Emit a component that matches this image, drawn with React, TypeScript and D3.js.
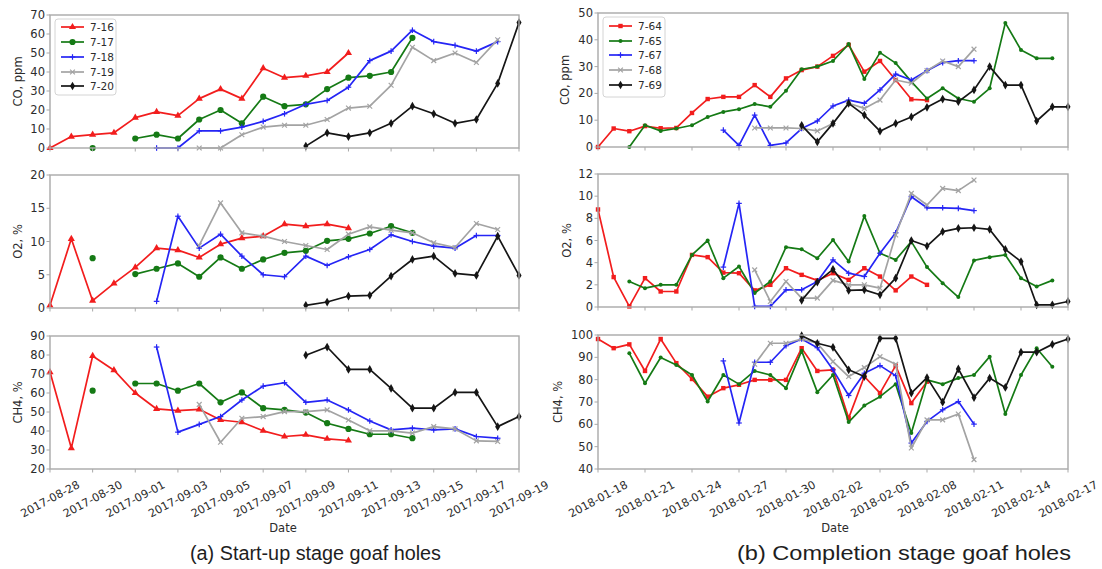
import React from "react";
import * as d3 from "d3";

const _ = null;

// ---- (a) start-up stage goaf holes ----
const startupDates = [
  "2017-08-28", "2017-08-29", "2017-08-30", "2017-08-31", "2017-09-01", "2017-09-02",
  "2017-09-03", "2017-09-04", "2017-09-05", "2017-09-06", "2017-09-07", "2017-09-08",
  "2017-09-09", "2017-09-10", "2017-09-11", "2017-09-12", "2017-09-13", "2017-09-14",
  "2017-09-15", "2017-09-16", "2017-09-17", "2017-09-18", "2017-09-19",
];
const startupTicks = [
  "2017-08-28", "2017-08-30", "2017-09-01", "2017-09-03", "2017-09-05", "2017-09-07",
  "2017-09-09", "2017-09-11", "2017-09-13", "2017-09-15", "2017-09-17", "2017-09-19",
];
const startupHoles = ["7-16", "7-17", "7-18", "7-19", "7-20"];

const coA716 = [0, 6, 7, 8, 16, 19, 17, 26, 31, 26, 42, 37, 38, 40, 50, _, _, _, _, _, _, _, _];
const coA717 = [_, _, 0, _, 5, 7, 5, 15, 20, 13, 27, 22, 23, 31, 37, 38, 40, 58, _, _, _, _, _];
const coA718 = [_, _, _, _, _, 0, 0, 9, 9, 11, 14, 18, 23, 25, 32, 46, 51, 62, 56, 54, 51, 56, _];
const coA719 = [_, _, _, _, _, _, _, 0, 0, 7, 11, 12, 12, 15, 21, 22, 33, 53, 46, 50, 45, 57, _];
const coA720 = [_, _, _, _, _, _, _, _, _, _, _, _, 1, 8, 6, 8, 13, 22, 18, 13, 15, 34, 66];

const o2A716 = [0.4, 10.4, 1.1, 3.7, 6.1, 9.0, 8.7, 7.6, 9.6, 10.5, 10.8, 12.6, 12.3, 12.6, 12.0, _, _, _, _, _, _, _, _];
const o2A717 = [_, _, 7.5, _, 5.1, 5.9, 6.7, 4.7, 7.6, 5.9, 7.3, 8.3, 8.6, 10.1, 10.4, 11.2, 12.3, 11.3, _, _, _, _, _];
const o2A718 = [_, _, _, _, _, 1.0, 13.8, 9.0, 11.1, 7.8, 5.0, 4.7, 7.8, 6.4, 7.7, 8.8, 11.0, 10.0, 9.3, 9.0, 10.9, 10.9, _];
const o2A719 = [_, _, _, _, _, _, _, 9.4, 15.8, 11.3, 10.8, 10.0, 9.4, 8.8, 11.1, 12.2, 11.7, 11.3, 9.8, 9.1, 12.7, 11.8, _];
const o2A720 = [_, _, _, _, _, _, _, _, _, _, _, _, 0.4, 0.9, 1.8, 1.9, 4.8, 7.3, 7.8, 5.2, 4.9, 10.8, 4.9];

const ch4A716 = [71, 31, 79.5, 72, 60, 51.6, 50.7, 51.4, 45.8, 44.6, 40.1, 37.1, 38, 35.9, 35, _, _, _, _, _, _, _, _];
const ch4A717 = [_, _, 61.2, _, 65, 65, 61.2, 65, 55.1, 60.3, 52, 51.1, 49.7, 44.1, 41.1, 38.3, 38.3, 36.2, _, _, _, _, _];
const ch4A718 = [_, _, _, _, _, 84.2, 39.4, 43.5, 47.6, 56.3, 63.6, 65.4, 55.1, 56.3, 51.1, 45.3, 40.6, 41.5, 40.6, 41.1, 37.1, 36.2, _];
const ch4A719 = [_, _, _, _, _, _, _, 54, 34.1, 46.7, 47.6, 50.2, 50.2, 51.1, 45.8, 40.1, 40.1, 38.9, 42.3, 41.1, 34.8, 34.5, _];
const ch4A720 = [_, _, _, _, _, _, _, _, _, _, _, _, 79.9, 84.2, 72.4, 72.4, 62.4, 52, 52, 60.3, 60.3, 42.3, 47.6];

// ---- (b) completion stage goaf holes ----
const completionDates = [
  "2018-01-18", "2018-01-19", "2018-01-20", "2018-01-21", "2018-01-22", "2018-01-23",
  "2018-01-24", "2018-01-25", "2018-01-26", "2018-01-27", "2018-01-28", "2018-01-29",
  "2018-01-30", "2018-01-31", "2018-02-01", "2018-02-02", "2018-02-03", "2018-02-04",
  "2018-02-05", "2018-02-06", "2018-02-07", "2018-02-08", "2018-02-09", "2018-02-10",
  "2018-02-11", "2018-02-12", "2018-02-13", "2018-02-14", "2018-02-15", "2018-02-16",
  "2018-02-17",
];
const completionTicks = [
  "2018-01-18", "2018-01-21", "2018-01-24", "2018-01-27", "2018-01-30", "2018-02-02",
  "2018-02-05", "2018-02-08", "2018-02-11", "2018-02-14", "2018-02-17",
];
const completionHoles = ["7-64", "7-65", "7-67", "7-68", "7-69"];

const coB764 = [0, 6.9, 5.9, 7.8, 7, 7.1, 12.7, 17.9, 18.7, 18.7, 23.1, 18.7, 25.6, 28.7, 30, 34, 38.1, 28.1, 32.1, 25, 17.8, 17.5, _, _, _, _, _, _, _, _, _];
const coB765 = [_, _, 0, 8.1, 6, 6.9, 8.1, 11.2, 13.1, 14.1, 16, 15, 21, 29, 30, 32.1, 38.4, 25.4, 35.2, 31.3, 24.4, 18.1, 21.9, 18.1, 16.9, 21.9, 46.3, 36.2, 33.1, 33.1, _];
const coB767 = [_, _, _, _, _, _, _, _, 6.3, 0.6, 11.9, 0.6, 1.5, 6.9, 9.7, 15.3, 17.5, 16.3, 21.3, 27.2, 25, 28.5, 31.5, 32.2, 32.2, _, _, _, _, _, _];
const coB768 = [_, _, _, _, _, _, _, _, _, _, 7.1, 7.1, 7.1, 6.9, 6, 8.8, 16.3, 14.4, 17.5, 25, 23.8, 28.5, 32.1, 30, 36.5, _, _, _, _, _, _];
const coB769 = [_, _, _, _, _, _, _, _, _, _, _, _, _, 8.1, 1.9, 8.8, 16.3, 11.9, 5.9, 8.8, 11.2, 14.8, 17.9, 16.9, 21.3, 30, 23.1, 23.1, 9.7, 15, 15];

const o2B764 = [8.8, 2.7, 0.05, 2.6, 1.4, 1.4, 4.7, 4.5, 3.1, 3.05, 1.5, 2.0, 3.5, 2.9, 2.4, 3.05, 2.45, 3.5, 2.75, 1.5, 2.75, 2.0, _, _, _, _, _, _, _, _, _];
const o2B765 = [_, _, 2.3, 1.7, 2.0, 2.0, 4.7, 6.0, 2.6, 3.65, 1.26, 2.3, 5.4, 5.2, 4.4, 6.05, 4.1, 8.2, 4.85, 4.25, 5.9, 3.6, 2.15, 0.9, 4.2, 4.5, 4.7, 2.6, 1.85, 2.4, _];
const o2B767 = [_, _, _, _, _, _, _, _, 3.6, 9.35, 0.05, 0.05, 1.55, 1.55, 2.3, 4.25, 3.05, 2.75, 4.85, 6.7, 9.95, 8.95, 8.95, 8.9, 8.7, _, _, _, _, _, _];
const o2B768 = [_, _, _, _, _, _, _, _, _, _, 3.35, 0.5, 2.3, 0.8, 0.8, 2.4, 2.0, 2.0, 1.7, 6.5, 10.25, 9.2, 10.7, 10.5, 11.45, _, _, _, _, _, _];
const o2B769 = [_, _, _, _, _, _, _, _, _, _, _, _, _, 0.6, 2.25, 3.4, 1.5, 1.55, 1.1, 2.6, 6.0, 5.5, 6.8, 7.1, 7.15, 7.0, 5.2, 4.1, 0.2, 0.2, 0.5];

const ch4B764 = [98.2, 94.1, 95.8, 83.9, 98.2, 87.4, 80.3, 72.4, 76.2, 77.7, 79.9, 79.9, 79.9, 94.1, 83.9, 84.4, 62.8, 81.4, 74, 86.3, 69.5, 79.1, _, _, _, _, _, _, _, _, _];
const ch4B765 = [_, _, 91.8, 78.4, 89.9, 86.6, 82.1, 70.2, 82.1, 78, 83.9, 82.1, 76.2, 92.9, 74.4, 82.1, 61, 68.4, 72.4, 78, 56.1, 79.9, 78, 80.7, 82.1, 90.3, 64.6, 82.1, 94.1, 85.8, _];
const ch4B767 = [_, _, _, _, _, _, _, _, 88.4, 60.6, 87.8, 87.8, 95.2, 98.2, 94.3, 84.4, 72.9, 82.9, 86.3, 81.8, 51.6, 61.3, 66.5, 70.2, 60.1, _, _, _, _, _, _];
const ch4B768 = [_, _, _, _, _, _, _, _, _, _, 86.9, 96.3, 96.3, 98.2, 96.3, 88.1, 81.4, 85.4, 90.3, 86.9, 49.4, 62, 62, 64.6, 44.2, _, _, _, _, _, _];
const ch4B769 = [_, _, _, _, _, _, _, _, _, _, _, _, _, 99.7, 96.3, 94.5, 84.4, 81.4, 98.5, 98.5, 74, 80.9, 69.9, 84.8, 72, 80.7, 76.5, 92.3, 92.3, 95.8, 98.2];

// axis ticks
const coTicksA = [0, 10, 20, 30, 40, 50, 60, 70];
const o2TicksA = [0, 5, 10, 15, 20];
const ch4TicksA = [20, 30, 40, 50, 60, 70, 80, 90];
const coTicksB = [0, 10, 20, 30, 40, 50];
const o2TicksB = [0, 2, 4, 6, 8, 10, 12];
const ch4TicksB = [40, 50, 60, 70, 80, 90, 100];

type MarkerKind = "triangle" | "circle" | "dot" | "plus" | "cross" | "diamond" | "square";

const styleA: { color: string; marker: MarkerKind }[] = [
  { color: "#f21d1d", marker: "triangle" },
  { color: "#157a15", marker: "circle" },
  { color: "#2525f5", marker: "plus" },
  { color: "#a3a3a3", marker: "cross" },
  { color: "#151515", marker: "diamond" },
];
const styleB: { color: string; marker: MarkerKind }[] = [
  { color: "#f21d1d", marker: "square" },
  { color: "#157a15", marker: "dot" },
  { color: "#2525f5", marker: "plus" },
  { color: "#a3a3a3", marker: "cross" },
  { color: "#151515", marker: "diamond" },
];

const parse = d3.utcParse("%Y-%m-%d");
const FONT = "'DejaVu Sans', sans-serif";
const FRAME = "#a9a9a9";
const TXT = "#2b2b2b";

function Marker({ kind, x, y, color }: { kind: MarkerKind; x: number; y: number; color: string }) {
  switch (kind) {
    case "triangle":
      return <path d={d3.symbol(d3.symbolTriangle, 22)() as string} transform={`translate(${x},${y})`} fill={color} />;
    case "diamond":
      return <path d={d3.symbol(d3.symbolDiamond, 22)() as string} transform={`translate(${x},${y})`} fill={color} />;
    case "circle":
      return <circle cx={x} cy={y} r={3.1} fill={color} />;
    case "dot":
      return <circle cx={x} cy={y} r={2} fill={color} />;
    case "square":
      return <rect x={x - 2.2} y={y - 2.2} width={4.4} height={4.4} fill={color} />;
    case "plus":
      return (
        <g stroke={color} strokeWidth={1.2}>
          <line x1={x - 2.8} y1={y} x2={x + 2.8} y2={y} />
          <line x1={x} y1={y - 2.8} x2={x} y2={y + 2.8} />
        </g>
      );
    case "cross":
      return (
        <g stroke={color} strokeWidth={1.2}>
          <line x1={x - 2.4} y1={y - 2.4} x2={x + 2.4} y2={y + 2.4} />
          <line x1={x - 2.4} y1={y + 2.4} x2={x + 2.4} y2={y - 2.4} />
        </g>
      );
  }
  return null;
}

type PanelProps = {
  x0: number;
  x1: number;
  y0: number;
  y1: number;
  dates: string[];
  tickDates: string[];
  showDates: boolean;
  yDomain: [number, number];
  yTicks: number[];
  yLabel: string;
  yLabelX: number;
  series: (number | null)[][];
  styles: { color: string; marker: MarkerKind }[];
};

function Panel(p: PanelProps) {
  const x = d3
    .scaleUtc()
    .domain([parse(p.dates[0]) as Date, parse(p.dates[p.dates.length - 1]) as Date])
    .range([p.x0, p.x1]);
  const y = d3.scaleLinear().domain(p.yDomain).range([p.y1, p.y0]);
  const pts = (vals: (number | null)[]) =>
    vals.map((v, i) => ({ d: parse(p.dates[i]) as Date, v }));
  const line = d3
    .line<{ d: Date; v: number | null }>()
    .defined((q) => q.v !== null)
    .x((q) => x(q.d))
    .y((q) => y(q.v as number));
  const midY = (p.y0 + p.y1) / 2;
  return (
    <g>
      {p.series.map((vals, si) => {
        const st = p.styles[si];
        const data = pts(vals);
        return (
          <g key={si}>
            <path d={line(data) || ""} fill="none" stroke={st.color} strokeWidth={1.7} strokeLinejoin="round" />
            {data
              .filter((q) => q.v !== null)
              .map((q, k) => (
                <Marker key={k} kind={st.marker} x={x(q.d)} y={y(q.v as number)} color={st.color} />
              ))}
          </g>
        );
      })}
      <rect x={p.x0} y={p.y0} width={p.x1 - p.x0} height={p.y1 - p.y0} fill="none" stroke={FRAME} strokeWidth={1.4} />
      {p.yTicks.map((t) => (
        <g key={t}>
          <line x1={p.x0 - 3.5} x2={p.x0} y1={y(t)} y2={y(t)} stroke={FRAME} strokeWidth={1} />
          <text x={p.x0 - 5} y={y(t)} dy="0.35em" textAnchor="end" fontSize={11.5} fill={TXT} fontFamily={FONT}>
            {t}
          </text>
        </g>
      ))}
      {p.tickDates.map((t) => {
        const tx = x(parse(t) as Date);
        return (
          <g key={t}>
            <line x1={tx} x2={tx} y1={p.y1} y2={p.y1 + 3.5} stroke={FRAME} strokeWidth={1} />
            {p.showDates && (
              <text
                transform={`translate(${tx},${p.y1 + 30}) rotate(-28)`}
                textAnchor="middle"
                dy="0.35em"
                fontSize={11.2}
                fill={TXT}
                fontFamily={FONT}
              >
                {t}
              </text>
            )}
          </g>
        );
      })}
      <text
        transform={`translate(${p.yLabelX},${midY}) rotate(-90)`}
        textAnchor="middle"
        dy="0.35em"
        fontSize={11.5}
        fill={TXT}
        fontFamily={FONT}
      >
        {p.yLabel}
      </text>
    </g>
  );
}

function Legend({
  x,
  y,
  w,
  h,
  rows,
  names,
  styles,
}: {
  x: number;
  y: number;
  w: number;
  h: number;
  rows: number[];
  names: string[];
  styles: { color: string; marker: MarkerKind }[];
}) {
  return (
    <g>
      <rect x={x} y={y} width={w} height={h} rx={3} fill="#fff" fillOpacity={0.9} stroke="#d4d4d4" strokeWidth={1} />
      {names.map((n, i) => {
        const cy = rows[i];
        const st = styles[i];
        return (
          <g key={n}>
            <line x1={x + 6} x2={x + 29} y1={cy} y2={cy} stroke={st.color} strokeWidth={1.7} />
            <Marker kind={st.marker} x={x + 17.5} y={cy} color={st.color} />
            <text x={x + 35} y={cy} dy="0.35em" fontSize={10.5} fill={TXT} fontFamily={FONT}>
              {n}
            </text>
          </g>
        );
      })}
    </g>
  );
}

export default function App() {
  const leftX: [number, number] = [50, 519];
  const rightX: [number, number] = [598, 1068];
  return (
    <svg
      width={1102}
      height={569}
      viewBox="0 0 1102 569"
      style={{ position: "absolute", left: 0, top: 0, background: "#fff" }}
    >
      <rect width={1102} height={569} fill="#fff" />
      {/* start-up stage */}
      <Panel x0={leftX[0]} x1={leftX[1]} y0={15} y1={148} dates={startupDates} tickDates={startupTicks} showDates={false}
        yDomain={[0, 70]} yTicks={coTicksA} yLabel="CO, ppm" yLabelX={18}
        series={[coA716, coA717, coA718, coA719, coA720]} styles={styleA} />
      <Panel x0={leftX[0]} x1={leftX[1]} y0={175} y1={308} dates={startupDates} tickDates={startupTicks} showDates={false}
        yDomain={[0, 20]} yTicks={o2TicksA} yLabel="O2, %" yLabelX={18}
        series={[o2A716, o2A717, o2A718, o2A719, o2A720]} styles={styleA} />
      <Panel x0={leftX[0]} x1={leftX[1]} y0={336} y1={469} dates={startupDates} tickDates={startupTicks} showDates={true}
        yDomain={[20, 90]} yTicks={ch4TicksA} yLabel="CH4, %" yLabelX={18}
        series={[ch4A716, ch4A717, ch4A718, ch4A719, ch4A720]} styles={styleA} />
      <Legend x={55} y={19} w={61} h={76} rows={[27, 42, 57, 72, 86]} names={startupHoles} styles={styleA} />

      {/* completion stage */}
      <Panel x0={rightX[0]} x1={rightX[1]} y0={13} y1={147} dates={completionDates} tickDates={completionTicks} showDates={false}
        yDomain={[0, 50]} yTicks={coTicksB} yLabel="CO, ppm" yLabelX={565}
        series={[coB764, coB765, coB767, coB768, coB769]} styles={styleB} />
      <Panel x0={rightX[0]} x1={rightX[1]} y0={174} y1={307} dates={completionDates} tickDates={completionTicks} showDates={false}
        yDomain={[0, 12]} yTicks={o2TicksB} yLabel="O2, %" yLabelX={567}
        series={[o2B764, o2B765, o2B767, o2B768, o2B769]} styles={styleB} />
      <Panel x0={rightX[0]} x1={rightX[1]} y0={335} y1={469} dates={completionDates} tickDates={completionTicks} showDates={true}
        yDomain={[40, 100]} yTicks={ch4TicksB} yLabel="CH4, %" yLabelX={558}
        series={[ch4B764, ch4B765, ch4B767, ch4B768, ch4B769]} styles={styleB} />
      <Legend x={603} y={17} w={62} h={80} rows={[26, 41, 55, 70, 85]} names={completionHoles} styles={styleB} />

      <text x={283} y={532} textAnchor="middle" fontSize={11.5} fill={TXT} fontFamily={FONT}>Date</text>
      <text x={835} y={532} textAnchor="middle" fontSize={11.5} fill={TXT} fontFamily={FONT}>Date</text>

      <text x={190} y={560} fontSize={20} fill="#1e1e1e" fontFamily="'Liberation Sans', Arial, sans-serif"
        textLength={251} lengthAdjust="spacingAndGlyphs">(a) Start-up stage goaf holes</text>
      <text x={737} y={560} fontSize={20} fill="#1e1e1e" fontFamily="'Liberation Sans', Arial, sans-serif"
        textLength={334} lengthAdjust="spacingAndGlyphs">(b) Completion stage goaf holes</text>
    </svg>
  );
}
